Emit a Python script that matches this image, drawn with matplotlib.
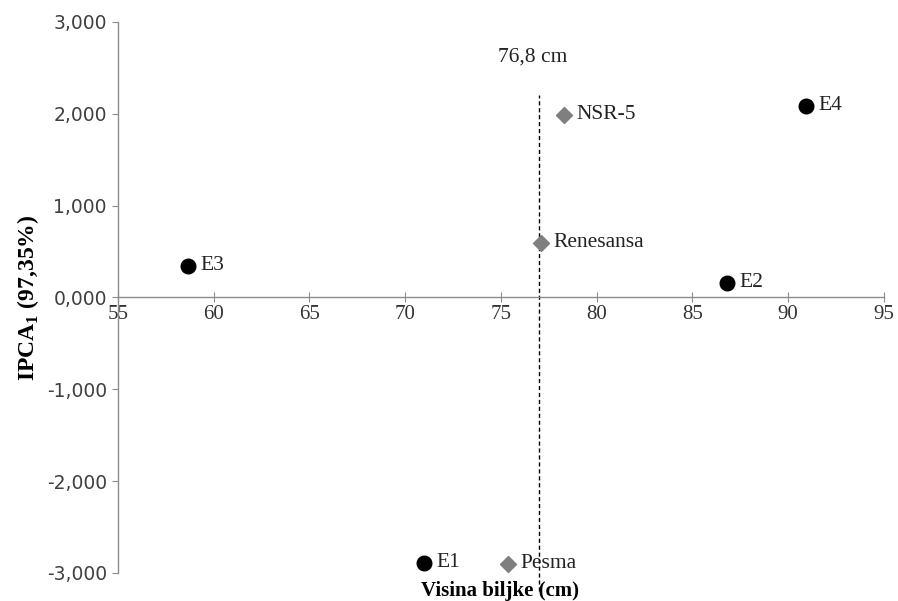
import matplotlib
matplotlib.use('Agg')
import matplotlib.pyplot as plt
import numpy as np
from matplotlib.ticker import FuncFormatter

plt.rcParams['font.family'] = ['Liberation Serif', 'DejaVu Serif']
plt.rcParams['mathtext.fontset'] = 'custom'
plt.rcParams['mathtext.rm'] = 'Liberation Serif'
plt.rcParams['mathtext.bf'] = 'Liberation Serif:bold'

# environments (black circles)
env_names = ['E1', 'E2', 'E3', 'E4']
env_x = [70.98, 86.8, 58.66, 90.93]
env_y = [-2.89, 0.158, 0.343, 2.086]

# genotypes (grey diamonds)
gen_names = ['NSR-5', 'Renesansa', 'Pesma']
gen_x = [78.29, 77.09, 75.37]
gen_y = [1.988, 0.594, -2.90]

mean_x = 77.0
mean_label = '76,8 cm'
xticks = [55, 60, 65, 70, 75, 80, 85, 90, 95]
yticks = [-3, -2, -1, 0, 1, 2, 3]

fig = plt.figure(figsize=(8.98, 6.01), dpi=100)
ax = fig.add_axes([0.1314, 0.0466, 0.853, 0.9168])

ax.plot(env_x, env_y, 'o', color='black', markersize=10.5, zorder=3)
ax.plot(gen_x, gen_y, 'D', color='#7f7f7f', markersize=8.5, zorder=3)

for n, x, y in zip(env_names, env_x, env_y):
    ax.annotate(n, (x, y), xytext=(9, 0), textcoords='offset points',
                va='center', ha='left', fontsize=15.5, color='#222222')
for n, x, y in zip(gen_names, gen_x, gen_y):
    ax.annotate(n, (x, y), xytext=(9, 0), textcoords='offset points',
                va='center', ha='left', fontsize=15.5, color='#222222')

ax.plot([mean_x, mean_x], [-3.2, 2.2], color='black', lw=1, ls=(0, (3, 2)),
        clip_on=False, zorder=2)
ax.text(mean_x - 0.35, 2.62, mean_label, ha='center', va='center',
        fontsize=15.5, color='#222222')

ax.set_xlim(55, 95)
ax.set_ylim(-3, 3)
ax.set_xticks(xticks)
ax.set_yticks(yticks)
ax.yaxis.set_major_formatter(FuncFormatter(lambda v, p: ('%.3f' % v).replace('.', ',')))

ax.spines['top'].set_visible(False)
ax.spines['right'].set_visible(False)
ax.spines['bottom'].set_position(('data', 0))
for s in ['left', 'bottom']:
    ax.spines[s].set_color('#8c8c8c')
    ax.spines[s].set_linewidth(1)

ax.tick_params(axis='x', direction='inout', length=7, color='#8c8c8c',
               labelsize=15, labelcolor='#333333', pad=2)
ax.tick_params(axis='y', direction='out', length=4, color='#8c8c8c',
               labelsize=13.5, labelcolor='#404040', pad=4)
for t in ax.get_yticklabels():
    t.set_fontfamily('DejaVu Sans')

ax.set_ylabel(r'IPCA$_\mathbf{1}$ (97,35%)', fontsize=17, fontweight='bold', labelpad=4)
fig.text(0.557, 0.017, 'Visina biljke (cm)', ha='center', va='center',
         fontsize=15, fontweight='bold')

fig.savefig('out.png', dpi=100, facecolor='white')
